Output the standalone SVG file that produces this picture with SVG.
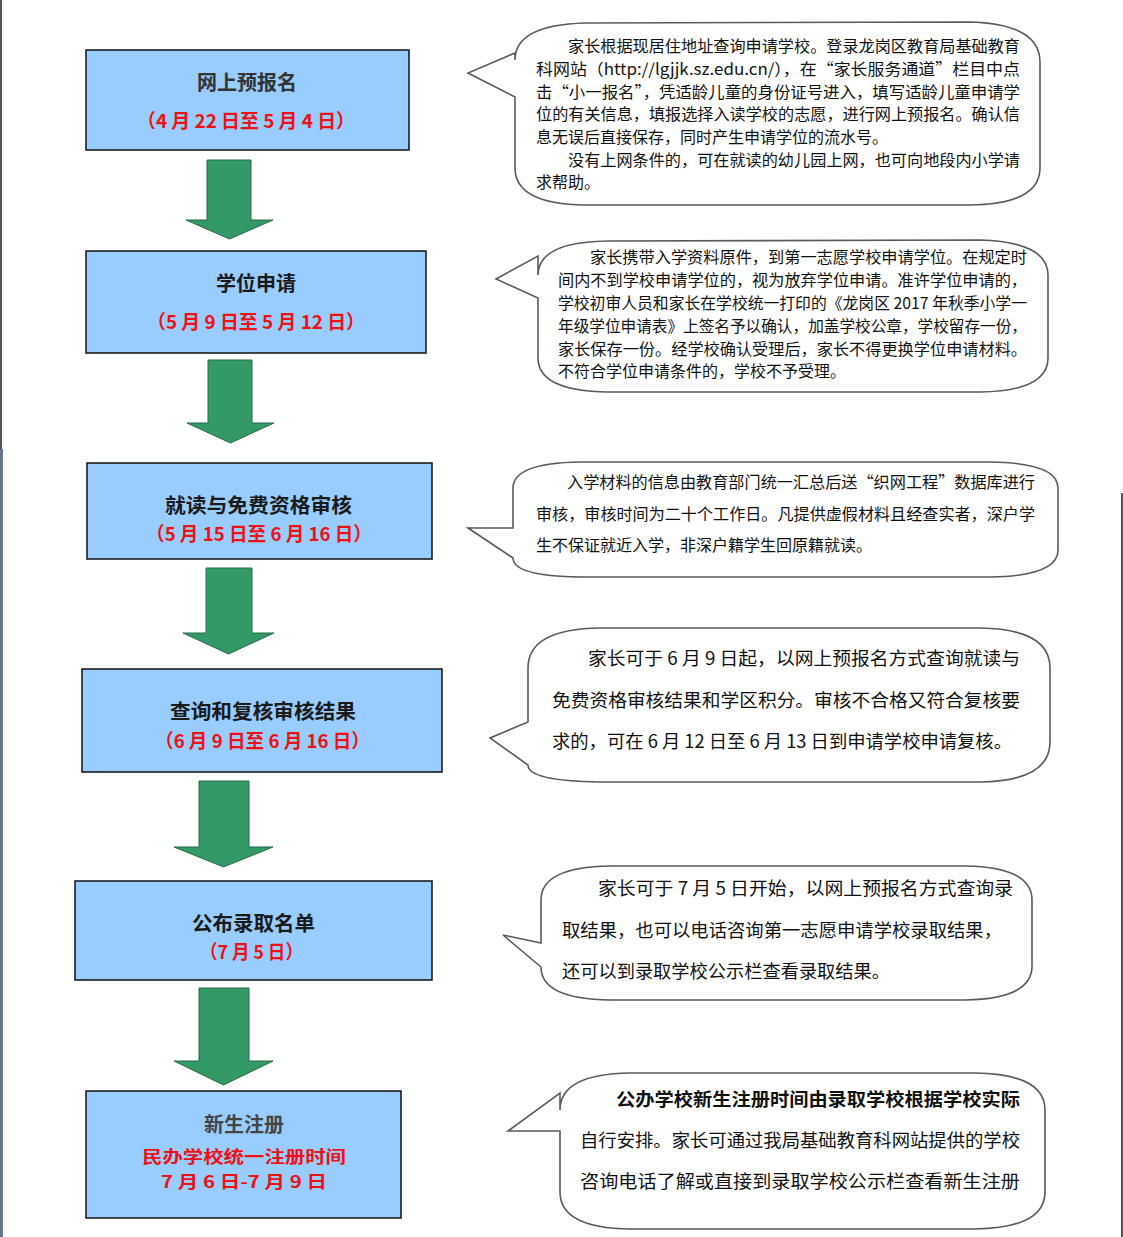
<svg xmlns="http://www.w3.org/2000/svg" width="1123" height="1237" viewBox="0 0 1123 1237">
<style>
.box{fill:#99CCFF;stroke:#111;stroke-width:1.5}
.arr{fill:#339966;stroke:#2a6a48;stroke-width:1}
.call{fill:#fff;stroke:#5a5a5a;stroke-width:1.6}
.t{font-family:"Noto Sans CJK SC","Noto Sans",sans-serif;font-size:20px;font-weight:bold;fill:#1a1a1a;text-anchor:middle}
.d{font-family:"Noto Sans CJK SC","Noto Sans",sans-serif;font-size:19px;font-weight:bold;fill:#ee1111;text-anchor:middle}
.d2{font-family:"Noto Sans CJK SC","Noto Sans",sans-serif;font-size:16.5px;font-weight:bold;fill:#ee1111;text-anchor:middle}
.c{font-family:"Noto Sans CJK SC","Noto Sans",sans-serif;font-size:16px;fill:#111}
.c2{font-family:"Noto Sans CJK SC","Noto Sans",sans-serif;font-size:18px;fill:#111}
</style>
<rect width="1123" height="1237" fill="#fff"/>
<line x1="1" y1="0" x2="1" y2="449" stroke="#555" stroke-width="2"/>
<line x1="1.5" y1="449" x2="1.5" y2="1237" stroke="#66778f" stroke-width="3"/>
<line x1="1122" y1="493" x2="1122" y2="1237" stroke="#555" stroke-width="2"/>

<g id="connectors">
<polygon class="arr" points="207,160 251,160 251,220 273,220 229.5,239 186,220 207,220"/>
<polygon class="arr" points="208,360 252,360 252,423 274,423 230.5,443 187,423 208,423"/>
<polygon class="arr" points="206,568 252,568 252,633 274,633 228.5,654 183,633 206,633"/>
<polygon class="arr" points="199,781 249,781 249,847 273,847 223.5,867 174,847 199,847"/>
<polygon class="arr" points="199,988 249,988 249,1061 273,1061 223.5,1085 174,1061 199,1061"/>
</g>

<g id="step1">
<rect class="box" x="86" y="50" width="323" height="100"/>
<text class="t" x="247" y="90" style="fill:#333">网上预报名</text>
<text class="d" x="246" y="128" textLength="218" lengthAdjust="spacingAndGlyphs">（4 月 22 日至 5 月 4 日）</text>
</g>
<g id="step2">
<rect class="box" x="86" y="251" width="340" height="102"/>
<text class="t" x="256" y="291">学位申请</text>
<text class="d" x="256" y="329" textLength="218" lengthAdjust="spacingAndGlyphs">（5 月 9 日至 5 月 12 日）</text>
</g>
<g id="step3">
<rect class="box" x="87" y="463" width="345" height="96"/>
<text class="t" x="258.5" y="513" textLength="187" lengthAdjust="spacingAndGlyphs">就读与免费资格审核</text>
<text class="d" x="259" y="541" textLength="226" lengthAdjust="spacingAndGlyphs">（5 月 15 日至 6 月 16 日）</text>
</g>
<g id="step4">
<rect class="box" x="82" y="669" width="360" height="103"/>
<text class="t" x="263" y="719" textLength="186" lengthAdjust="spacingAndGlyphs">查询和复核审核结果</text>
<text class="d" x="262.5" y="748" textLength="215" lengthAdjust="spacingAndGlyphs">（6 月 9 日至 6 月 16 日）</text>
</g>
<g id="step5">
<rect class="box" x="75" y="881" width="357" height="99"/>
<text class="t" x="253.5" y="931" textLength="123" lengthAdjust="spacingAndGlyphs">公布录取名单</text>
<text class="d" x="251.5" y="959" textLength="103" lengthAdjust="spacingAndGlyphs">（7 月 5 日）</text>
</g>
<g id="step6">
<rect class="box" x="86" y="1091" width="315" height="127"/>
<text class="t" x="244" y="1132" style="fill:#444">新生注册</text>
<text class="d2" x="244" y="1163" textLength="204" lengthAdjust="spacingAndGlyphs">民办学校统一注册时间</text>
<text class="d2" x="244" y="1188" textLength="166" lengthAdjust="spacingAndGlyphs">7 月 6 日-7 月 9 日</text>
</g>

<g id="note1">
<path class="call" d="M515,60 Q515,25 585,23 L970,22 Q1040,24 1040,62 L1040,168 Q1040,204 970,205 L585,205 Q515,204 515,168 L515,97 L468,73 L515,53 Z"/>
<text class="c" x="568" y="52" textLength="452" lengthAdjust="spacingAndGlyphs">家长根据现居住地址查询申请学校。登录龙岗区教育局基础教育</text>
<text class="c" x="536" y="75" textLength="484" lengthAdjust="spacingAndGlyphs">科网站（http://lgjjk.sz.edu.cn/），在“家长服务通道”栏目中点</text>
<text class="c" x="536" y="98" textLength="484" lengthAdjust="spacingAndGlyphs">击“小一报名”，凭适龄儿童的身份证号进入，填写适龄儿童申请学</text>
<text class="c" x="536" y="120" textLength="484" lengthAdjust="spacingAndGlyphs">位的有关信息，填报选择入读学校的志愿，进行网上预报名。确认信</text>
<text class="c" x="536" y="143">息无误后直接保存，同时产生申请学位的流水号。</text>
<text class="c" x="568" y="166" textLength="452" lengthAdjust="spacingAndGlyphs">没有上网条件的，可在就读的幼儿园上网，也可向地段内小学请</text>
<text class="c" x="536" y="188">求帮助。</text>
</g>
<g id="note2">
<path class="call" d="M538,275 Q538,242 608,241 L980,240 Q1048,242 1048,275 L1048,358 Q1048,391 980,392 L608,392 Q538,391 538,358 L538,298 L496,279 L538,256 Z"/>
<text class="c" x="590" y="263" textLength="437" lengthAdjust="spacingAndGlyphs">家长携带入学资料原件，到第一志愿学校申请学位。在规定时</text>
<text class="c" x="558" y="286" textLength="469" lengthAdjust="spacingAndGlyphs">间内不到学校申请学位的，视为放弃学位申请。准许学位申请的，</text>
<text class="c" x="558" y="309" textLength="469" lengthAdjust="spacingAndGlyphs">学校初审人员和家长在学校统一打印的《龙岗区 2017 年秋季小学一</text>
<text class="c" x="558" y="332" textLength="469" lengthAdjust="spacingAndGlyphs">年级学位申请表》上签名予以确认，加盖学校公章，学校留存一份，</text>
<text class="c" x="558" y="355" textLength="469" lengthAdjust="spacingAndGlyphs">家长保存一份。经学校确认受理后，家长不得更换学位申请材料。</text>
<text class="c" x="558" y="377">不符合学位申请条件的，学校不予受理。</text>
</g>
<g id="note3">
<path class="call" d="M513,488 Q513,463 580,462 L990,462 Q1058,463 1058,488 L1058,550 Q1058,576 990,577 L580,577 Q513,576 513,558 L468,528 L513,528 Z"/>
<text class="c" x="567" y="488" textLength="468" lengthAdjust="spacingAndGlyphs">入学材料的信息由教育部门统一汇总后送“织网工程”数据库进行</text>
<text class="c" x="536" y="520" textLength="499" lengthAdjust="spacingAndGlyphs">审核，审核时间为二十个工作日。凡提供虚假材料且经查实者，深户学</text>
<text class="c" x="536" y="551">生不保证就近入学，非深户籍学生回原籍就读。</text>
</g>
<g id="note4">
<path class="call" d="M528,668 Q528,629 600,628 L980,628 Q1050,629 1050,668 L1050,742 Q1050,781 980,782 L600,782 Q528,781 528,765 L490,738 L528,722 Z"/>
<text class="c2" x="588" y="665" textLength="432" lengthAdjust="spacingAndGlyphs">家长可于 6 月 9 日起，以网上预报名方式查询就读与</text>
<text class="c2" x="552" y="707" textLength="468" lengthAdjust="spacingAndGlyphs">免费资格审核结果和学区积分。审核不合格又符合复核要</text>
<text class="c2" x="552" y="748" textLength="460" lengthAdjust="spacingAndGlyphs">求的，可在 6 月 12 日至 6 月 13 日到申请学校申请复核。</text>
</g>
<g id="note5">
<path class="call" d="M541,900 Q541,867 610,866 L965,866 Q1032,867 1032,900 L1032,966 Q1032,999 965,1000 L610,1000 Q541,999 541,967 L503,935 L541,943 Z"/>
<text class="c2" x="598" y="895" textLength="415" lengthAdjust="spacingAndGlyphs">家长可于 7 月 5 日开始，以网上预报名方式查询录</text>
<text class="c2" x="562" y="937" textLength="440" lengthAdjust="spacingAndGlyphs">取结果，也可以电话咨询第一志愿申请学校录取结果，</text>
<text class="c2" x="562" y="978" textLength="328" lengthAdjust="spacingAndGlyphs">还可以到录取学校公示栏查看录取结果。</text>
</g>
<g id="note6">
<path class="call" d="M560,1110 Q560,1074 630,1073 L975,1073 Q1045,1074 1045,1110 L1045,1192 Q1045,1228 975,1229 L630,1229 Q560,1228 560,1192 L560,1131 L508,1131 L560,1093 Z"/>
<text class="c2" x="616" y="1106" textLength="404" lengthAdjust="spacingAndGlyphs" font-weight="bold">公办学校新生注册时间由录取学校根据学校实际</text>
<text class="c2" x="580" y="1147" textLength="440" lengthAdjust="spacingAndGlyphs">自行安排。家长可通过我局基础教育科网站提供的学校</text>
<text class="c2" x="580" y="1188" textLength="440" lengthAdjust="spacingAndGlyphs">咨询电话了解或直接到录取学校公示栏查看新生注册</text>
</g>
</svg>
